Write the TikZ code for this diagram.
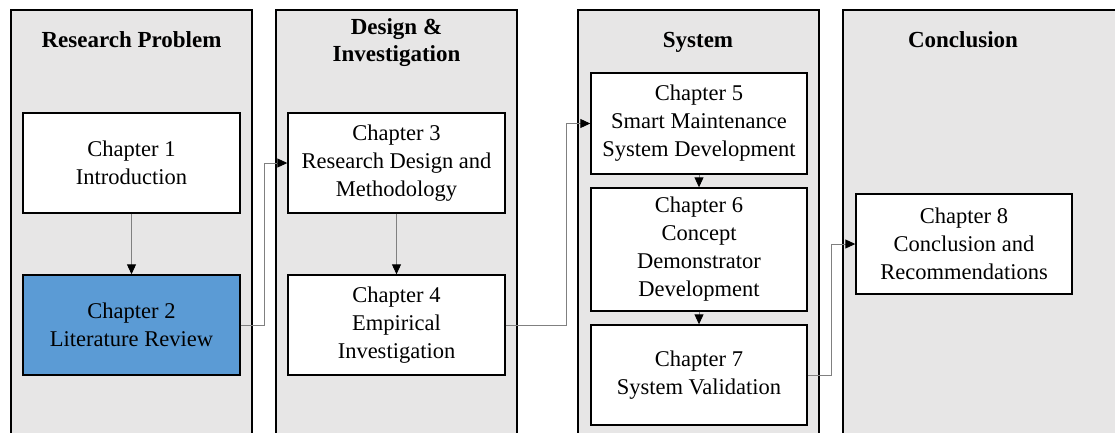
\documentclass[tikz,border=0pt]{standalone}
\usepackage{fontspec}
\setmainfont{Liberation Serif}
\usetikzlibrary{arrows.meta}
\definecolor{panelgray}{HTML}{E7E6E6}
\definecolor{chapblue}{HTML}{5B9BD5}
\tikzset{
	panel/.style = {draw=black, line width=1.4pt, fill=panelgray},
	ptitle/.style = {align=center, inner sep=0pt, font=\fontsize{23}{27}\selectfont\bfseries},
	chapbox/.style = {draw=black, line width=1.4pt, fill=white, align=center, inner sep=0pt,
		font=\fontsize{22.5}{28}\selectfont, minimum width=217pt, minimum height=100pt},
	hilite/.style = {chapbox, fill=chapblue},
	flow/.style = {draw=gray, line width=0.9pt, -{Triangle[length=10pt,width=9pt,black]}}
}
\begin{document}
\begin{tikzpicture}[x=1pt, y=-1pt]
	\useasboundingbox (0,0) rectangle (1115,432);
	\clip (0,0) rectangle (1115,432);
	% columns
	\draw [panel] (11,10) rectangle (252,450);
	\draw [panel] (276,10) rectangle (517,450);
	\draw [panel] (578,10) rectangle (819,450);
	\draw [panel] (843,10) rectangle (1130,450);
	\node [ptitle, anchor=base] (t1) at (131.5,47) {Research Problem};
	\node [ptitle] (t2) at (396.5,43) {Design \&\\Investigation};
	\node [ptitle, anchor=base] (t3) at (698,47) {System};
	\node [ptitle, anchor=base] (t4) at (963,47) {Conclusion};
	% chapters
	\node [chapbox] (ch1) at (131.5,163) {Chapter 1\\Introduction};
	\node [hilite] (ch2) at (131.5,325) {Chapter 2\\Literature Review};
	\node [chapbox] (ch3) at (396.5,163) {Chapter 3\\Research Design and\\Methodology};
	\node [chapbox] (ch4) at (396.5,325) {Chapter 4\\Empirical\\Investigation};
	\node [chapbox, minimum width=216pt, minimum height=101pt] (ch5) at (699,123.5)
		{Chapter 5\\Smart Maintenance\\System Development};
	\node [chapbox, minimum width=216pt, minimum height=123pt] (ch6) at (699,249.5)
		{Chapter 6\\Concept\\Demonstrator\\Development};
	\node [chapbox, minimum width=216pt] (ch7) at (699,375) {Chapter 7\\System Validation};
	\node [chapbox, minimum width=216pt] (ch8) at (964,244)
		{Chapter 8\\Conclusion and\\Recommendations};
	% links
	\draw [flow] (ch1) -- (ch2);
	\draw [flow] (ch2.east) -- ++(24,0) |- (ch3.west);
	\draw [flow] (ch3) -- (ch4);
	\draw [flow] (ch4.east) -- ++(61,0) |- (ch5.west);
	\draw [flow] (ch5) -- (ch6);
	\draw [flow] (ch6) -- (ch7);
	\draw [flow] (ch7.east) -- ++(24,0) |- (ch8.west);
\end{tikzpicture}
\end{document}
